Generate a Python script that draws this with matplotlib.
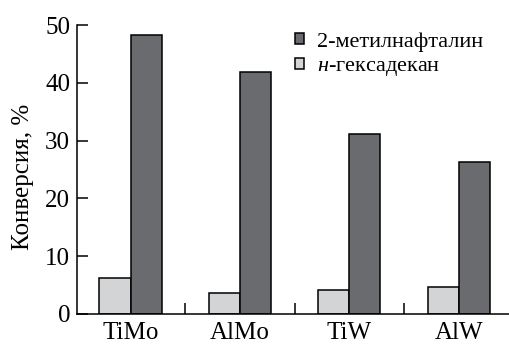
import numpy as np
import matplotlib
matplotlib.use("Agg")
import matplotlib.pyplot as plt

# data
catalysts = ["TiMo", "AlMo", "TiW", "AlW"]
hexadecane = [6.3, 3.6, 4.2, 4.6]
methylnaphthalene = [48.2, 41.9, 31.1, 26.3]
yticks = [0, 10, 20, 30, 40, 50]

plt.rcParams['font.family'] = ['Liberation Serif', 'DejaVu Serif']
plt.rcParams['mathtext.fontset'] = 'custom'
plt.rcParams['mathtext.rm'] = 'Liberation Serif'
plt.rcParams['mathtext.it'] = 'Liberation Serif:italic'

fig = plt.figure(figsize=(5.09, 3.48), dpi=100)
ax = fig.add_axes([77 / 509, 34 / 348, 432 / 509, 289 / 348])

x = np.arange(len(catalysts))
width = 0.285
ax.bar(x - width / 2, hexadecane, width, color="#d3d4d6",
       edgecolor="black", linewidth=1.1, label="$\\it{н}$-гексадекан")
ax.bar(x + width / 2, methylnaphthalene, width, color="#6a6b6f",
       edgecolor="black", linewidth=1.1, label="2-метилнафталин")

ax.set_xlim(-0.49, 3.46)
ax.set_ylim(0, 50)
ax.set_yticks(yticks)
ax.tick_params(axis="y", direction="in", length=8, width=1.1,
               labelsize=18, pad=5)
ax.set_xticks(x)
ax.set_xticklabels(catalysts)
ax.tick_params(axis="x", which="major", length=0, labelsize=18, pad=6)
ax.set_xticks(x[:-1] + 0.5, minor=True)
ax.tick_params(axis="x", which="minor", direction="in", length=8, width=1.1)

for side in ["top", "right"]:
    ax.spines[side].set_visible(False)
for side in ["left", "bottom"]:
    ax.spines[side].set_linewidth(1.1)

ax.set_ylabel("Конверсия, %", fontsize=18)
ax.yaxis.set_label_coords(-0.10, 0.475)

handles, labels = ax.get_legend_handles_labels()
ax.legend(handles[::-1], labels[::-1], loc="upper left",
          bbox_to_anchor=(0.505, 0.975), frameon=False, fontsize=16,
          borderpad=0, borderaxespad=0,
          handlelength=0.4, handleheight=0.4, handletextpad=0.6,
          labelspacing=0.25)

fig.savefig("out.png", dpi=100)
